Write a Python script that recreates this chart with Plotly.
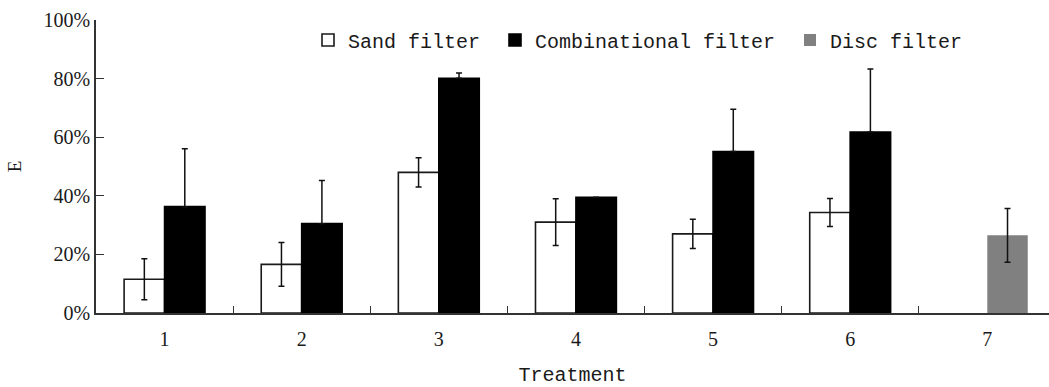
import plotly.graph_objects as go

categories = ["1", "2", "3", "4", "5", "6", "7"]
sand = [11.5, 16.6, 48.0, 31.0, 27.0, 34.3, None]
sand_err = [7.0, 7.5, 5.0, 8.0, 5.0, 4.8, None]
comb = [36.3, 30.5, 80.1, 39.5, 55.1, 61.8, None]
comb_err_up = [19.8, 14.7, 1.8, 0.0, 14.4, 21.5, None]
comb_err_down = [0, 0, 0, 0, 0, 0, None]
disc = [None, None, None, None, None, None, 26.5]
disc_err = [None, None, None, None, None, None, 9.2]
y_ticks = [0, 20, 40, 60, 80, 100]
y_ticktext = ["0%", "20%", "40%", "60%", "80%", "100%"]

W, H = 1049, 387
ML, MR, MT, MB = 96, 0, 20, 74
PW, PH = W - ML - MR, H - MT - MB
BW = 0.295
INK = "#1a1a1a"
mono = "Liberation Mono"
serif = "Liberation Serif"

err_style = dict(type="data", visible=True, color="#111111", thickness=1.5, width=3)

fig = go.Figure()
fig.add_trace(go.Bar(
    x=categories, y=sand, name="Sand filter", width=BW, offset=-BW,
    marker=dict(color="white", line=dict(color=INK, width=1.6)),
    error_y=dict(array=sand_err, **err_style), legend="legend"))
fig.add_trace(go.Bar(
    x=categories, y=comb, name="Combinational filter", width=BW, offset=0,
    marker=dict(color="black", line=dict(color="black", width=1.6)),
    error_y=dict(array=comb_err_up, arrayminus=comb_err_down, symmetric=False, **err_style),
    legend="legend2"))
fig.add_trace(go.Bar(
    x=categories, y=disc, name="Disc filter", width=BW, offset=0,
    marker=dict(color="#808080", line=dict(color="#808080", width=0)),
    error_y=dict(array=disc_err, **err_style), legend="legend3"))

def leg(xpx):
    return dict(x=(xpx - ML) / PW, y=(MT + PH - 40) / PH, xref="paper", yref="paper",
                xanchor="left", yanchor="middle", bgcolor="rgba(0,0,0,0)",
                font=dict(family=mono, size=20, color=INK), borderwidth=0)

fig.update_layout(
    width=W, height=H,
    margin=dict(l=ML, r=MR, t=MT, b=MB, autoexpand=False),
    plot_bgcolor="white", paper_bgcolor="white",
    barmode="overlay",
    showlegend=True,
    legend=leg(308), legend2=leg(495), legend3=leg(790),
    font=dict(family=serif, size=20, color=INK),
    xaxis=dict(
        type="category", range=[-0.5, 6.45],
        showline=True, linecolor="#333333", linewidth=1.5,
        ticks="inside", tickson="boundaries", ticklen=7, tickwidth=1.2, tickcolor="#333333",
        showgrid=False, zeroline=False, tickangle=0, ticklabelstandoff=7,
        tickfont=dict(family=serif, size=20, color=INK),
        title=dict(text="Treatment", font=dict(family=mono, size=20, color=INK), standoff=18),
    ),
    yaxis=dict(
        range=[0, 100], tickmode="array", tickvals=y_ticks, ticktext=y_ticktext,
        showline=True, linecolor="#333333", linewidth=1.5,
        ticks="inside", ticklen=8, tickwidth=1.2, tickcolor="#333333",
        showgrid=False, zeroline=False,
        tickfont=dict(family=serif, size=20, color=INK),
        title=dict(text="E", font=dict(family=serif, size=19, color=INK), standoff=17),
    ),
)

fig.write_html("out.html")
